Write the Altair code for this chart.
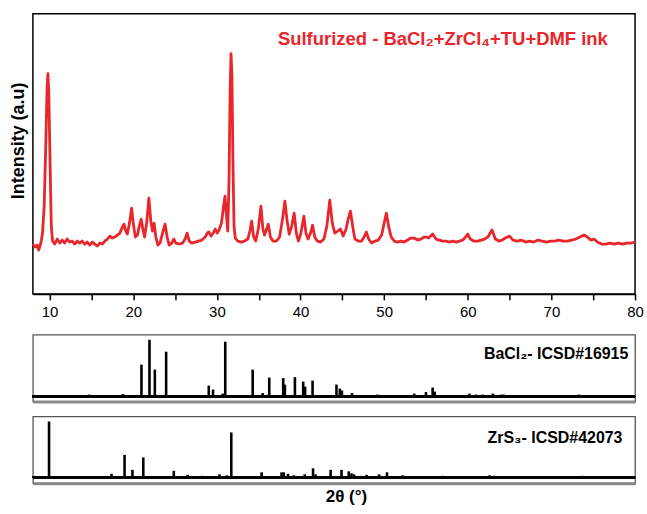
import altair as alt
import pandas as pd

# ---------------- data ----------------
# measured pattern (2theta, intensity a.u.)
theta_red = [8.0, 8.3, 8.5, 8.7, 8.85, 9.0, 9.15, 9.35, 9.55, 9.7, 9.8, 9.9, 10.05, 10.2, 10.35,
             10.6, 10.9, 11.2, 11.5, 11.8, 12.1, 12.4, 12.7, 13.0, 13.3, 13.6, 13.9, 14.2, 14.5,
             14.8, 15.1, 15.4, 15.7, 16.0, 16.3, 16.6, 16.9, 17.2, 17.5, 17.8, 18.1, 18.4, 18.7,
             18.9, 19.1, 19.3, 19.55, 19.8, 20.0, 20.25, 20.5, 20.75, 20.95, 21.15, 21.35, 21.6,
             21.87, 22.1, 22.3, 22.5, 22.7, 22.95, 23.2, 23.5, 23.8, 24.05, 24.3, 24.6, 24.85,
             25.1, 25.5, 25.9, 26.2, 26.44, 26.7, 27.0, 27.4, 27.8, 28.2, 28.6, 28.85, 29.05,
             29.3, 29.55, 29.8, 30.05, 30.3, 30.55, 30.8, 30.97, 31.15, 31.3, 31.45, 31.58,
             31.69, 31.8, 31.92, 32.05, 32.2, 32.5, 32.9, 33.3, 33.7, 33.95, 34.16, 34.4, 34.65,
             34.95, 35.27, 35.5, 35.7, 35.95, 36.14, 36.4, 36.7, 37.1, 37.5, 37.85, 38.13, 38.4,
             38.65, 38.95, 39.24, 39.5, 39.75, 40.05, 40.4, 40.65, 40.9, 41.2, 41.44, 41.7, 42.0,
             42.4, 42.8, 43.15, 43.5, 43.8, 44.1, 44.45, 44.78, 45.1, 45.45, 45.7, 45.97, 46.25,
             46.5, 46.9, 47.3, 47.6, 47.88, 48.15, 48.5, 48.9, 49.3, 49.7, 50.0, 50.27, 50.55,
             50.85, 51.2, 51.6, 52.0, 52.4, 52.8, 53.2, 53.6, 54.0, 54.4, 54.75, 55.0, 55.3,
             55.8, 56.2, 56.6, 57.0, 57.4, 57.8, 58.2, 58.6, 59.0, 59.4, 59.75, 60.0, 60.3,
             60.7, 61.2, 61.6, 62.0, 62.4, 62.9, 63.3, 63.7, 64.1, 64.5, 65.0, 65.4, 65.9, 66.4,
             66.9, 67.4, 67.9, 68.4, 68.9, 69.4, 69.9, 70.4, 70.9, 71.4, 71.9, 72.4, 72.9, 73.4,
             73.9, 74.3, 74.7, 75.1, 75.5, 76.0, 76.5, 77.0, 77.5, 78.0, 78.5, 79.0, 79.5, 80.0]
inten_red = [50, 47, 49, 44, 48, 53, 61, 88, 153, 208, 221, 203, 133, 68, 53,
             50, 55, 51, 54, 51, 55, 52, 53, 50, 53, 51, 53, 50, 52,
             49, 52, 50, 48, 51, 50, 53, 55, 58, 56, 57, 59, 61, 67,
             70, 63, 60, 71, 86, 71, 57, 59, 69, 75, 65, 57, 71,
             96, 73, 63, 71, 57, 49, 51, 61, 70, 57, 49, 51, 55,
             51, 50, 51, 55, 61, 53, 51, 52, 53, 54, 57, 61, 62,
             58, 61, 65, 61, 65, 71, 88, 98, 78, 63, 113, 203,
             241, 218, 133, 68, 56, 53, 52, 53, 55, 63, 73, 57, 53,
             65, 88, 65, 59, 65, 70, 57, 53, 53, 57, 75, 93, 73,
             60, 68, 81, 61, 53, 61, 78, 61, 55, 61, 69, 57, 53,
             52, 55, 68, 94, 71, 61, 63, 65, 58, 65, 75, 83, 67,
             55, 53, 53, 57, 62, 55, 51, 53, 54, 59, 71, 81, 67,
             57, 53, 52, 53, 52, 54, 56, 56, 54, 55, 57, 57, 56,
             60, 55, 54, 53, 53, 52, 53, 52, 53, 54, 57, 60, 55,
             53, 53, 54, 55, 57, 64, 55, 53, 54, 56, 58, 54, 53, 54,
             52, 53, 52, 54, 53, 52, 53, 53, 54, 53, 53, 54, 55, 57,
             59, 57, 54, 55, 52, 50, 50, 51, 50, 51, 50, 51, 51, 52]

# reference pattern BaCl2 - ICSD#16915 (2theta, relative intensity)
bacl2_pos = [14.7, 18.76, 20.98, 21.94, 22.58, 23.93, 29.03, 29.54, 30.7, 31.0, 34.28, 35.47,
             36.26, 37.93, 38.13, 39.33, 40.32, 40.55, 41.44, 44.3, 44.7, 44.95, 46.16, 49.2,
             51.2, 52.4, 53.6, 55.0, 55.8, 56.05, 57.6, 58.6, 60.2, 61.0, 61.8, 63.0, 64.0,
             64.3, 66.4, 67.6, 69.8, 70.6, 71.3, 73.3, 74.5, 75.3, 76.9, 78.1]
bacl2_int = [2, 2.5, 32, 57, 27, 45, 11, 7, 3, 55, 27, 3.5,
             19, 18.5, 12, 19.5, 15, 10, 16, 12, 8, 6, 3.5, 2,
             1.5, 1, 3, 4.5, 9, 5, 1.5, 1.5, 3, 2, 2, 3, 2,
             2, 1, 1, 1, 1, 1, 2, 1.5, 1, 1, 1]

# reference pattern ZrS3 - ICSD#42073
zrs3_pos = [9.93, 17.4, 18.96, 19.9, 21.2, 24.85, 26.5, 28.2, 30.3, 31.2, 31.72, 35.35, 37.73,
            38.0, 38.5, 39.2, 40.5, 41.5, 41.8, 43.6, 44.9, 45.77, 46.1, 46.4, 47.1, 47.9,
            49.4, 50.34, 52.2, 53.8, 54.2, 57.0, 59.0, 61.0, 62.6, 63.2, 65.0, 66.2, 68.6,
            70.2, 73.7, 75.7, 78.1]
zrs3_int = [56, 3.5, 22.5, 7.5, 20, 6.5, 2.5, 1.5, 3, 2, 45, 5, 5,
            5, 3.5, 2, 3, 9, 3, 7.5, 7.5, 6, 4, 3, 1.5, 2.5,
            3, 5, 2, 1, 1, 1.5, 1, 1, 2, 1.5, 1, 1, 1,
            1, 1.5, 1, 1]

x_ticks = [10, 15, 20, 25, 30, 35, 40, 45, 50, 55, 60, 65, 70, 75, 80]

title_text = "Sulfurized - BaCl\u2082+ZrCl\u2084+TU+DMF ink"
bacl2_text = "BaCl\u2082- ICSD#16915"
zrs3_text = "ZrS\u2083- ICSD#42073"

# ---------------- chart ----------------
FONT = "Liberation Sans"
RED = "#e8262b"
xscale = alt.Scale(domain=[8, 80], nice=False, zero=False)

red_df = pd.DataFrame({"t": theta_red, "i": inten_red})

top_x_axis = alt.Axis(values=x_ticks,
                      labelExpr="datum.value % 10 == 0 ? datum.label : ''",
                      tickSize=6, tickWidth=1.5, tickColor="black",
                      domainColor="black", domainWidth=1.5,
                      labelFontSize=15, labelPadding=5, labelFont=FONT, labelColor="black",
                      labelFlush=False, labelOverlap=False, grid=False, title=None)
top_y_axis = alt.Axis(title="Intensity (a.u)", labels=False, ticks=False, domain=False,
                      grid=False, titleFontSize=18, titleFont=FONT, titleFontWeight="bold",
                      titlePadding=5, titleY=127, titleColor="black")

top_line = alt.Chart(red_df).mark_line(color=RED, strokeWidth=2.8, strokeJoin="round").encode(
    x=alt.X("t:Q", scale=xscale, axis=top_x_axis),
    y=alt.Y("i:Q", scale=alt.Scale(domain=[0, 281], nice=False), axis=top_y_axis),
)
top_label = alt.Chart(pd.DataFrame({"t": [37.3], "i": [256], "s": [title_text]})).mark_text(
    align="left", baseline="middle", font=FONT, fontSize=18.5, fontWeight="bold", color=RED
).encode(x="t:Q", y="i:Q", text="s:N")

top = alt.layer(top_line, top_label).properties(
    width=604, height=281, view=alt.ViewConfig(stroke="black", strokeWidth=1.5))

hidden_y = alt.Axis(title="I", titleColor="transparent", titleFontSize=18, titleFont=FONT,
                    titleFontWeight="bold", titlePadding=5, labels=False, ticks=False,
                    domain=False, grid=False)


def stick_panel(pos, inten, label, lx, ly, ydom, xaxis):
    df = pd.DataFrame({"t": pos, "i": inten})
    ysc = alt.Scale(domain=ydom, nice=False, zero=False)
    sticks = alt.Chart(df).mark_rule(color="black", strokeWidth=2.6).encode(
        x=alt.X("t:Q", scale=xscale, axis=xaxis),
        y=alt.Y("i:Q", scale=ysc, axis=hidden_y),
        y2=alt.datum(0),
    )
    base = alt.Chart(df).mark_rule(color="black", strokeWidth=2).encode(y=alt.datum(0))
    txt = alt.Chart(pd.DataFrame({"t": [lx], "i": [ly], "s": [label]})).mark_text(
        align="right", baseline="middle", font=FONT, fontSize=16, fontWeight="bold", color="black"
    ).encode(x="t:Q", y="i:Q", text="s:N")
    return alt.layer(base, sticks, txt).properties(
        width=604, height=67, view=alt.ViewConfig(stroke="#555", strokeWidth=1.3))


mid_axis = alt.Axis(labels=False, ticks=False, title=None, domainColor="#888",
                    domainWidth=3, grid=False)
bot_axis = alt.Axis(labels=False, ticks=False, domainColor="#888", domainWidth=3, grid=False,
                    title="2\u03b8 (\u00b0)", titleFont=FONT, titleFontSize=17,
                    titleFontWeight="bold", titleColor="black", titlePadding=5, titleX=314)

p2 = stick_panel(bacl2_pos, bacl2_int, bacl2_text, 79.2, 43, [-5, 62], mid_axis)
p3 = stick_panel(zrs3_pos, zrs3_int, zrs3_text, 78.5, 39.3, [-6, 61], bot_axis)

chart = alt.vconcat(top, p2, p3, spacing=13).properties(
    padding={"left": 9, "top": 12, "right": 2, "bottom": 5},
    background="white",
)

chart.save("out.html", embed_options={"renderer": "svg", "actions": False})
